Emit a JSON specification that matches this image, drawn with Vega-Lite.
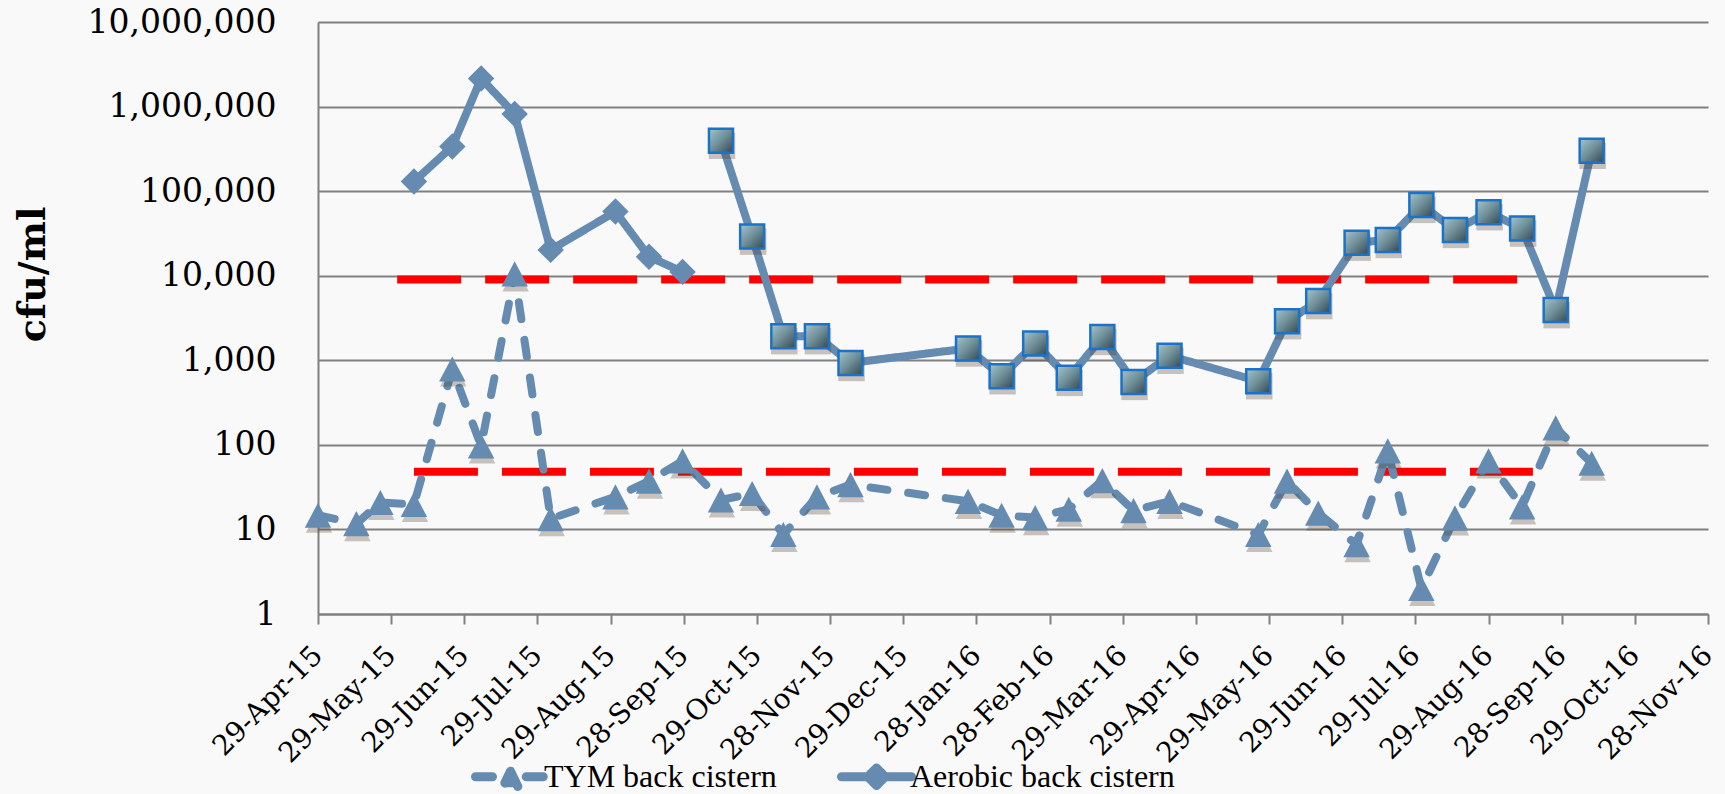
{
  "$schema": "https://vega.github.io/schema/vega-lite/v6.json",
  "width": 1390,
  "height": 592,
  "autosize": "none",
  "padding": {"left": 318, "top": 22, "right": 17, "bottom": 180},
  "background": "#F9F9F9",
  "config": {"view": {"stroke": null}, "font": "DejaVu Serif"},
  "datasets": {
    "samples": [
      {"date": "2015-04-29", "cfu": 14.7, "series": "TYM back cistern", "run": "TYM"},
      {"date": "2015-05-15", "cfu": 11.7, "series": "TYM back cistern", "run": "TYM"},
      {"date": "2015-05-25", "cfu": 20.8, "series": "TYM back cistern", "run": "TYM"},
      {"date": "2015-06-08", "cfu": 19.7, "series": "TYM back cistern", "run": "TYM"},
      {"date": "2015-06-24", "cfu": 790, "series": "TYM back cistern", "run": "TYM"},
      {"date": "2015-07-06", "cfu": 97, "series": "TYM back cistern", "run": "TYM"},
      {"date": "2015-07-20", "cfu": 10500, "series": "TYM back cistern", "run": "TYM"},
      {"date": "2015-08-04", "cfu": 13.4, "series": "TYM back cistern", "run": "TYM"},
      {"date": "2015-08-31", "cfu": 24.3, "series": "TYM back cistern", "run": "TYM"},
      {"date": "2015-09-14", "cfu": 37.2, "series": "TYM back cistern", "run": "TYM"},
      {"date": "2015-09-28", "cfu": 64.6, "series": "TYM back cistern", "run": "TYM"},
      {"date": "2015-10-14", "cfu": 22.3, "series": "TYM back cistern", "run": "TYM"},
      {"date": "2015-10-27", "cfu": 26.6, "series": "TYM back cistern", "run": "TYM"},
      {"date": "2015-11-09", "cfu": 8.7, "series": "TYM back cistern", "run": "TYM"},
      {"date": "2015-11-23", "cfu": 24.3, "series": "TYM back cistern", "run": "TYM"},
      {"date": "2015-12-07", "cfu": 33.9, "series": "TYM back cistern", "run": "TYM"},
      {"date": "2016-01-25", "cfu": 21.5, "series": "TYM back cistern", "run": "TYM"},
      {"date": "2016-02-08", "cfu": 14.7, "series": "TYM back cistern", "run": "TYM"},
      {"date": "2016-02-22", "cfu": 13.8, "series": "TYM back cistern", "run": "TYM"},
      {"date": "2016-03-07", "cfu": 17.3, "series": "TYM back cistern", "run": "TYM"},
      {"date": "2016-03-21", "cfu": 37.7, "series": "TYM back cistern", "run": "TYM"},
      {"date": "2016-04-03", "cfu": 16.7, "series": "TYM back cistern", "run": "TYM"},
      {"date": "2016-04-18", "cfu": 21.5, "series": "TYM back cistern", "run": "TYM"},
      {"date": "2016-05-25", "cfu": 8.7, "series": "TYM back cistern", "run": "TYM"},
      {"date": "2016-06-06", "cfu": 37.2, "series": "TYM back cistern", "run": "TYM"},
      {"date": "2016-06-19", "cfu": 15.6, "series": "TYM back cistern", "run": "TYM"},
      {"date": "2016-07-05", "cfu": 6.6, "series": "TYM back cistern", "run": "TYM"},
      {"date": "2016-07-18", "cfu": 85, "series": "TYM back cistern", "run": "TYM"},
      {"date": "2016-08-01", "cfu": 2.0, "series": "TYM back cistern", "run": "TYM"},
      {"date": "2016-08-15", "cfu": 13.7, "series": "TYM back cistern", "run": "TYM"},
      {"date": "2016-08-29", "cfu": 64.6, "series": "TYM back cistern", "run": "TYM"},
      {"date": "2016-09-12", "cfu": 18.5, "series": "TYM back cistern", "run": "TYM"},
      {"date": "2016-09-26", "cfu": 159, "series": "TYM back cistern", "run": "TYM"},
      {"date": "2016-10-11", "cfu": 60.7, "series": "TYM back cistern", "run": "TYM"},
      {"date": "2015-06-08", "cfu": 130000, "series": "Aerobic back cistern", "run": "A1"},
      {"date": "2015-06-24", "cfu": 337000, "series": "Aerobic back cistern", "run": "A1"},
      {"date": "2015-07-06", "cfu": 2150000, "series": "Aerobic back cistern", "run": "A1"},
      {"date": "2015-07-20", "cfu": 817000, "series": "Aerobic back cistern", "run": "A1"},
      {"date": "2015-08-04", "cfu": 20200, "series": "Aerobic back cistern", "run": "A1"},
      {"date": "2015-08-31", "cfu": 57300, "series": "Aerobic back cistern", "run": "A1"},
      {"date": "2015-09-14", "cfu": 16800, "series": "Aerobic back cistern", "run": "A1"},
      {"date": "2015-09-28", "cfu": 11100, "series": "Aerobic back cistern", "run": "A1"},
      {"date": "2015-10-14", "cfu": 394000, "series": "Aerobic back cistern", "run": "A2"},
      {"date": "2015-10-27", "cfu": 29000, "series": "Aerobic back cistern", "run": "A2"},
      {"date": "2015-11-09", "cfu": 1930, "series": "Aerobic back cistern", "run": "A2"},
      {"date": "2015-11-23", "cfu": 1930, "series": "Aerobic back cistern", "run": "A2"},
      {"date": "2015-12-07", "cfu": 930, "series": "Aerobic back cistern", "run": "A2"},
      {"date": "2016-01-25", "cfu": 1380, "series": "Aerobic back cistern", "run": "A2"},
      {"date": "2016-02-08", "cfu": 648, "series": "Aerobic back cistern", "run": "A2"},
      {"date": "2016-02-22", "cfu": 1580, "series": "Aerobic back cistern", "run": "A2"},
      {"date": "2016-03-07", "cfu": 620, "series": "Aerobic back cistern", "run": "A2"},
      {"date": "2016-03-21", "cfu": 1890, "series": "Aerobic back cistern", "run": "A2"},
      {"date": "2016-04-03", "cfu": 555, "series": "Aerobic back cistern", "run": "A2"},
      {"date": "2016-04-18", "cfu": 1130, "series": "Aerobic back cistern", "run": "A2"},
      {"date": "2016-05-25", "cfu": 566, "series": "Aerobic back cistern", "run": "A2"},
      {"date": "2016-06-06", "cfu": 2900, "series": "Aerobic back cistern", "run": "A2"},
      {"date": "2016-06-19", "cfu": 5010, "series": "Aerobic back cistern", "run": "A2"},
      {"date": "2016-07-05", "cfu": 24600, "series": "Aerobic back cistern", "run": "A2"},
      {"date": "2016-07-18", "cfu": 26500, "series": "Aerobic back cistern", "run": "A2"},
      {"date": "2016-08-01", "cfu": 68800, "series": "Aerobic back cistern", "run": "A2"},
      {"date": "2016-08-15", "cfu": 34800, "series": "Aerobic back cistern", "run": "A2"},
      {"date": "2016-08-29", "cfu": 56400, "series": "Aerobic back cistern", "run": "A2"},
      {"date": "2016-09-12", "cfu": 36100, "series": "Aerobic back cistern", "run": "A2"},
      {"date": "2016-09-26", "cfu": 3920, "series": "Aerobic back cistern", "run": "A2"},
      {"date": "2016-10-11", "cfu": 300000, "series": "Aerobic back cistern", "run": "A2"}
    ],
    "limits": [
      {"date": "2015-06-01", "date_end": "2016-09-10", "cfu": 9000},
      {"date": "2015-06-08", "date_end": "2016-09-16T12:00:00Z", "cfu": 48}
    ]
  },
  "encoding": {
    "x": {
      "field": "date",
      "type": "temporal",
      "scale": {
        "type": "utc",
        "domain": [
          {"year": 2015, "month": 4, "date": 29, "utc": true},
          {"year": 2016, "month": 11, "date": 28, "hours": 12, "utc": true}
        ]
      },
      "axis": {
        "title": null,
        "values": [
          {"year": 2015, "month": 4, "date": 29, "utc": true},
          {"year": 2015, "month": 5, "date": 29, "hours": 12, "utc": true},
          {"year": 2015, "month": 6, "date": 29, "utc": true},
          {"year": 2015, "month": 7, "date": 29, "hours": 12, "utc": true},
          {"year": 2015, "month": 8, "date": 29, "utc": true},
          {"year": 2015, "month": 9, "date": 28, "hours": 12, "utc": true},
          {"year": 2015, "month": 10, "date": 29, "utc": true},
          {"year": 2015, "month": 11, "date": 28, "hours": 12, "utc": true},
          {"year": 2015, "month": 12, "date": 29, "utc": true},
          {"year": 2016, "month": 1, "date": 28, "hours": 12, "utc": true},
          {"year": 2016, "month": 2, "date": 28, "utc": true},
          {"year": 2016, "month": 3, "date": 29, "hours": 12, "utc": true},
          {"year": 2016, "month": 4, "date": 29, "utc": true},
          {"year": 2016, "month": 5, "date": 29, "hours": 12, "utc": true},
          {"year": 2016, "month": 6, "date": 29, "utc": true},
          {"year": 2016, "month": 7, "date": 29, "hours": 12, "utc": true},
          {"year": 2016, "month": 8, "date": 29, "utc": true},
          {"year": 2016, "month": 9, "date": 28, "hours": 12, "utc": true},
          {"year": 2016, "month": 10, "date": 29, "utc": true},
          {"year": 2016, "month": 11, "date": 28, "hours": 12, "utc": true}
        ],
        "labelExpr": "utcFormat(datum.value, '%d-%b-%y')",
        "labelAngle": -45,
        "labelAlign": "right",
        "labelBaseline": "middle",
        "labelFont": "DejaVu Serif",
        "labelFontSize": 28,
        "labelColor": "#000000",
        "labelPadding": 27,
        "labelOverlap": false,
        "labelFlush": false,
        "labelLimit": 0,
        "tickSize": 10,
        "tickWidth": 2,
        "tickColor": "#808080",
        "domainColor": "#808080",
        "domainWidth": 2,
        "grid": false
      }
    },
    "y": {
      "field": "cfu",
      "type": "quantitative",
      "scale": {"type": "log", "domain": [1, 10000000], "nice": false},
      "axis": {
        "title": "cfu/ml",
        "values": [1, 10, 100, 1000, 10000, 100000, 1000000, 10000000],
        "format": ",",
        "labelFont": "DejaVu Serif",
        "labelFontSize": 33,
        "labelColor": "#000000",
        "labelPadding": 42,
        "labelLimit": 0,
        "ticks": false,
        "domainColor": "#808080",
        "domainWidth": 2,
        "grid": true,
        "gridColor": "#808080",
        "gridWidth": 2,
        "titleFont": "DejaVu Serif",
        "titleFontWeight": "bold",
        "titleFontSize": 38,
        "titleColor": "#000000",
        "titleAngle": -90,
        "titleAlign": "center",
        "titleBaseline": "middle",
        "titleX": -285,
        "titleY": 252
      }
    }
  },
  "layer": [
    {
      "data": {"name": "limits"},
      "mark": {"type": "rule", "color": "#FF0000", "strokeWidth": 8, "strokeDash": [64, 24], "strokeCap": "butt"},
      "encoding": {"x2": {"field": "date_end"}}
    },
    {
      "data": {"name": "samples"},
      "mark": {"type": "line", "strokeWidth": 8, "strokeCap": "round", "strokeJoin": "round"},
      "encoding": {
        "detail": {"field": "run"},
        "strokeDash": {
          "field": "series",
          "scale": {"domain": ["TYM back cistern", "Aerobic back cistern"], "range": [[17, 21], [1, 0]]},
          "legend": null
        },
        "color": {
          "field": "series",
          "type": "nominal",
          "scale": {"domain": ["TYM back cistern", "Aerobic back cistern"], "range": ["#658BB0", "#658BB0"]},
          "legend": {
            "orient": "none",
            "legendX": 153,
            "legendY": 715,
            "direction": "horizontal",
            "title": null,
            "padding": 0,
            "labelFont": "Liberation Serif",
            "labelFontSize": 32,
            "labelColor": "#000000",
            "labelLimit": 0,
            "labelOffset": -6,
            "columnPadding": 60,
            "symbolSize": 4900,
            "symbolStrokeWidth": 9,
            "encode": {
              "symbols": {
                "update": {
                  "shape": {"signal": "datum.value === 'TYM back cistern' ? 'M-1,0H-0.45M0.45,0H1M0,-0.16L0.22,0.3L-0.22,0.3Z' : 'M-1,0H1M0,-0.25L0.25,0L0,0.25L-0.25,0Z'"},
                  "fill": {"value": "#658BB0"},
                  "stroke": {"value": "#658BB0"},
                  "strokeDash": {"value": []},
                  "strokeCap": {"value": "round"},
                  "strokeJoin": {"value": "round"},
                  "opacity": {"value": 1}
                }
              }
            }
          }
        }
      }
    },
    {
      "data": {"name": "samples"},
      "transform": [{"filter": "datum.run !== 'A1'"}],
      "mark": {"type": "point", "filled": true, "color": "#4E3F2E", "opacity": 0.3, "size": 700, "yOffset": 5, "xOffset": 1},
      "encoding": {
        "shape": {
          "field": "run",
          "scale": {"domain": ["TYM", "A1", "A2"], "range": ["M0,-0.95L1,0.95L-1,0.95Z", "M-1,0L0,-1L1,0L0,1Z", "square"]},
          "legend": null
        }
      }
    },
    {
      "data": {"name": "samples"},
      "transform": [{"filter": "datum.run !== 'A2'"}],
      "mark": {"type": "point", "filled": true, "color": "#658BB0", "opacity": 1, "size": 700},
      "encoding": {
        "shape": {"field": "run", "legend": null}
      }
    },
    {
      "data": {"name": "samples"},
      "transform": [{"filter": "datum.run === 'A2'"}],
      "mark": {
        "type": "point",
        "shape": "square",
        "size": 576,
        "opacity": 1,
        "fill": {
          "gradient": "linear",
          "x1": 0, "y1": 0, "x2": 1, "y2": 1,
          "stops": [
            {"offset": 0, "color": "#A6C6CE"},
            {"offset": 0.5, "color": "#6E8E98"},
            {"offset": 1, "color": "#34474F"}
          ]
        },
        "stroke": "#1A73C9",
        "strokeWidth": 2.5
      }
    }
  ]
}
